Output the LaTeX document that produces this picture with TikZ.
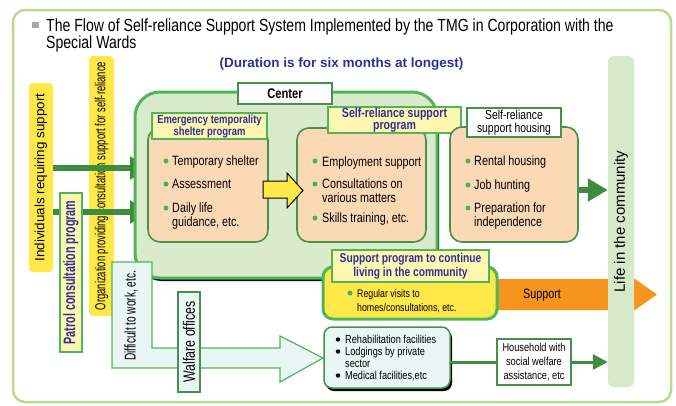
\documentclass[tikz,border=0pt]{standalone}
\usepackage{fontspec}
\setmainfont{Liberation Sans}[FakeStretch=0.8]
\newfontfamily\widefont{Liberation Sans}
\newfontfamily\slimfont{Liberation Sans}[FakeStretch=0.65]
\newfontfamily\halfslimfont{Liberation Sans}[FakeStretch=0.75]
\usetikzlibrary{arrows.meta,positioning,shadows}

\definecolor{framegreen}{RGB}{181,221,139}
\definecolor{centerfill}{RGB}{218,235,203}
\definecolor{linegreen}{RGB}{80,180,90}
\definecolor{boxgreen}{RGB}{70,145,75}
\definecolor{arrowgreen}{RGB}{62,140,66}
\definecolor{peach}{RGB}{252,217,181}
\definecolor{paleyellow}{RGB}{255,246,178}
\definecolor{sunyellow}{RGB}{255,232,72}
\definecolor{orangearr}{RGB}{247,148,30}
\definecolor{icecyan}{RGB}{234,246,244}
\definecolor{lifegreen}{RGB}{214,233,201}
\definecolor{navytext}{RGB}{46,49,146}
\definecolor{dotgreen}{RGB}{70,180,90}

\newcommand{\itemrows}[1]{\begin{tabular}[t]{@{}l@{}}#1\end{tabular}}

\tikzset{
  sunbar/.style={fill=sunyellow, rounded corners=4pt, rotate=90, inner sep=0pt},
  peachbox/.style={draw=boxgreen, fill=peach, line width=1.6pt, rounded corners=12pt},
  headbox/.style={draw=linegreen, fill=paleyellow, line width=2.5pt, inner sep=0pt,
    align=center, text=navytext},
  tagbox/.style={draw=boxgreen, fill=white, line width=1.2pt, inner sep=0pt, align=center},
  itemlist/.style={anchor=base west, inner sep=0pt, font=\fontsize{13.5}{14}\selectfont},
  greenarrow/.style={draw=arrowgreen, line width=6pt, -{Triangle[length=20pt,width=22pt]}},
  thinarrow/.style={draw=arrowgreen, line width=3pt, -{Triangle[length=15pt,width=15pt]}},
}

\begin{document}
\begin{tikzpicture}[x=1pt, y=-1pt]
  \useasboundingbox (0,0) rectangle (676,405);

  % frame and title
  \draw[framegreen, line width=2.5pt, rounded corners=12pt] (13,10) rectangle (671,402);
  \fill[black!35] (32,22) rectangle (39,28);
  \node[anchor=base west, inner sep=0pt, font=\fontsize{17.6}{16.5}\selectfont] (title) at (46,31)
    {\itemrows{The Flow of Self-reliance Support System Implemented by the TMG in Corporation with the\\Special Wards}};
  \node[font=\widefont\bfseries\fontsize{13.5}{15}\selectfont, text=navytext] (duration) at (341.5,64)
    {(Duration is for six months at longest)};

  % people and organizations on the left
  \node[sunbar, minimum width=189, minimum height=24, font=\widefont\fontsize{13.4}{15}\selectfont] (indiv) at (41,177.5)
    {Individuals requiring support};
  \node[sunbar, minimum width=260, minimum height=25, font=\slimfont\fontsize{14.5}{15}\selectfont] (org) at (101.5,186)
    {Organization providing consultation support for self-reliance};
  \coordinate (in1) at (150,168);
  \coordinate (in2) at (150,212);
  \draw[greenarrow] (indiv.south |- in1) -- (in1);
  \draw[greenarrow] (indiv.south |- in2) -- (in2);
  \node[draw=linegreen, fill=paleyellow, line width=2pt, rotate=90, minimum width=159, minimum height=22,
    inner sep=0pt, text=navytext, font=\slimfont\bfseries\fontsize{16.5}{17}\selectfont] (patrol) at (71,272.5)
    {Patrol consultation program};

  % Center
  \node[draw=linegreen, fill=centerfill, line width=3pt, rounded corners=25pt, minimum width=302, minimum height=186,
    drop shadow={shadow xshift=2pt, shadow yshift=-3pt, fill=black, opacity=1}] (centerzone) at (286,185) {};
  \node[tagbox, minimum width=94, minimum height=21, font=\bfseries\fontsize{14}{15}\selectfont] (centerlbl) at (285,93.5) {Center};

  % Emergency temporality shelter program
  \node[peachbox, minimum width=120, minimum height=114] (emerg) at (208,185) {};
  \node[headbox, minimum width=115, minimum height=26, font=\bfseries\fontsize{11.8}{12}\selectfont] (emerghead) at (209.5,126)
    {Emergency temporality\\shelter program};
  \fill[dotgreen] (166,161) circle (2.5);
  \fill[dotgreen] (166,184) circle (2.5);
  \fill[dotgreen] (166,208) circle (2.5);
  \node[itemlist] (emerg1) at (172,165) {Temporary shelter};
  \node[itemlist] (emerg2) at (172,188) {Assessment};
  \node[itemlist] (emerg3) at (172,212) {\itemrows{Daily life\\guidance, etc.}};

  % Self-reliance support program
  \node[peachbox, minimum width=129, minimum height=114] (srprog) at (361.5,185) {};
  \node[headbox, minimum width=133, minimum height=26, font=\bfseries\fontsize{13.2}{12}\selectfont] (srhead) at (394.5,120)
    {Self-reliance support\\program};
  \fill[dotgreen] (315,161) circle (2.5);
  \fill[dotgreen] (315,184) circle (2.5);
  \fill[dotgreen] (315,218) circle (2.5);
  \node[itemlist] (srprog1) at (322,166) {Employment support};
  \node[itemlist] (srprog2) at (322,188) {\itemrows{Consultations on\\various matters}};
  \node[itemlist] (srprog3) at (322,222) {Skills training, etc.};
  \draw[fill=sunyellow, line width=1pt] (263,181) -- (287,181) -- (287,173) -- (303,190.5)
    -- (287,208) -- (287,198) -- (263,198) -- cycle;

  % Self-reliance support housing
  \node[peachbox, minimum width=128, minimum height=115] (house) at (514,184.5) {};
  \node[tagbox, minimum width=94, minimum height=29, font=\fontsize{13}{13}\selectfont] (houselbl) at (514,122.5)
    {Self-reliance\\support housing};
  \fill[dotgreen] (468,161) circle (2.5);
  \fill[dotgreen] (468,185) circle (2.5);
  \fill[dotgreen] (468,208) circle (2.5);
  \node[itemlist] (house1) at (474,165) {Rental housing};
  \node[itemlist] (house2) at (474,189) {Job hunting};
  \node[itemlist] (house3) at (474,212) {\itemrows{Preparation for\\independence}};

  % Life in the community
  \fill[orangearr] (497,279) -- (635,279) -- (657,294.5) -- (635,310) -- (497,310) -- cycle;
  \node[font=\fontsize{13.5}{15}\selectfont] (supp) at (542,295) {Support};
  \node[fill=lifegreen, rounded corners=5pt, rotate=90, minimum width=331, minimum height=26, inner sep=0pt,
    font=\widefont\fontsize{15}{16}\selectfont] (life) at (621,221.5) {Life in the community};
  \coordinate (toLife) at (life.north |- 0,190);
  \draw[greenarrow] (house.east |- toLife) -- (toLife);

  % Support program to continue living in the community
  \node[draw=linegreen, fill=sunyellow, line width=3pt, rounded corners=10pt, minimum width=174, minimum height=52] (contbox) at (410,293) {};
  \node[headbox, minimum width=157, minimum height=32, font=\bfseries\fontsize{12.8}{13.5}\selectfont] (conthead) at (410.5,266)
    {Support program to continue\\living in the community};
  \fill[dotgreen] (350,293) circle (2.5);
  \node[itemlist, font=\fontsize{11}{14}\selectfont] (cont1) at (357,297) {\itemrows{Regular visits to\\homes/consultations, etc.}};

  % Difficult to work
  \draw[fill=icecyan, draw=linegreen, line width=1.2pt] (112,262) -- (152,262) -- (152,348) -- (280,348)
    -- (280,336) -- (323,358) -- (280,382) -- (280,368) -- (112,368) -- cycle;
  \node[rotate=90, inner sep=0pt, font=\slimfont\fontsize{15.5}{16}\selectfont] (diff) at (131,316) {Difficult to work, etc.};
  \node[draw=boxgreen, fill=icecyan, line width=1.2pt, rotate=90, minimum width=100, minimum height=22, inner sep=0pt,
    font=\halfslimfont\fontsize{16.5}{17}\selectfont] (walf) at (189,342) {Walfare offices};

  % Facilities
  \node[draw=boxgreen, fill=icecyan, line width=1.5pt, rounded corners=8pt, minimum width=126, minimum height=61,
    drop shadow={shadow xshift=2pt, shadow yshift=-3pt, fill=black, opacity=1}] (facil) at (387,357.5) {};
  \foreach \y in {339.5,351.5,375.5}
    \fill[black] (338,\y) circle (2.2);
  \node[itemlist, font=\fontsize{11.5}{12}\selectfont] (facil1) at (345,343)
    {\itemrows{Rehabilitation facilities\\Lodgings by private\\sector\\Medical facilities,etc}};
  \node[tagbox, minimum width=74, minimum height=46, font=\fontsize{11.5}{14}\selectfont] (household) at (534,362)
    {Household with\\social welfare\\assistance, etc};
  \draw[draw=arrowgreen, line width=3pt] (facil.east |- household.west) -- (household.west);
  \draw[thinarrow] (household.east) -- (life.north |- household.east);
\end{tikzpicture}
\end{document}
